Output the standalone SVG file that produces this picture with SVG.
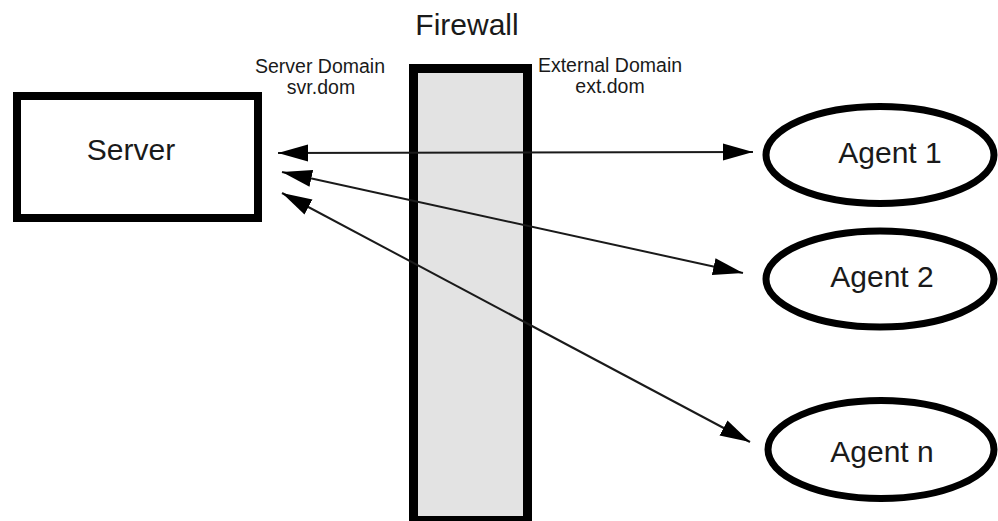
<svg xmlns="http://www.w3.org/2000/svg" width="998" height="521" viewBox="0 0 998 521">
<style>
  .box { fill: #ffffff; stroke: #000; stroke-width: 8; }
  .fw { fill: #e3e3e3; stroke: #000; stroke-width: 9; }
  .agent { fill: #ffffff; stroke: #000; stroke-width: 7; }
  .lbl { font-family: "Liberation Sans", Arial, sans-serif; fill: #1a1a1a; text-anchor: middle; }
  .big { font-size: 30px; }
  .small { font-size: 19.5px; }
  .conn { stroke: #1a1a1a; stroke-width: 2; fill: none; marker-start: url(#ah); marker-end: url(#ah); }
</style>
<defs>
  <marker id="ah" markerUnits="userSpaceOnUse" markerWidth="30" markerHeight="18" refX="30" refY="8.5" orient="auto-start-reverse" viewBox="0 0 30 17">
    <path d="M0,0 L30,8.5 L0,17 z" fill="#000"/>
  </marker>
</defs>
<rect width="998" height="521" fill="#ffffff"/>
<g id="firewall">
  <rect class="fw" x="413.5" y="68.5" width="114" height="452"/>
  <text class="lbl big" x="467" y="35">Firewall</text>
</g>
<g id="server-domain-label">
  <text class="lbl small" x="320" y="73">Server Domain</text>
  <text class="lbl small" x="321" y="94">svr.dom</text>
</g>
<g id="external-domain-label">
  <text class="lbl small" x="610" y="72">External Domain</text>
  <text class="lbl small" x="610" y="93">ext.dom</text>
</g>
<g id="server">
  <rect class="box" x="17" y="96" width="241" height="122"/>
  <text class="lbl big" x="131" y="160">Server</text>
</g>
<g id="agent1">
  <ellipse class="agent" cx="880" cy="155" rx="114" ry="48.5"/>
  <text class="lbl big" x="890" y="163">Agent 1</text>
</g>
<g id="agent2">
  <ellipse class="agent" cx="880" cy="279" rx="114" ry="48"/>
  <text class="lbl big" x="882" y="287">Agent 2</text>
</g>
<g id="agentn">
  <ellipse class="agent" cx="881" cy="449.5" rx="113" ry="49"/>
  <text class="lbl big" x="882" y="462">Agent n</text>
</g>
<g id="connectors">
  <line class="conn" x1="278" y1="153" x2="753" y2="152"/>
  <line class="conn" x1="282" y1="172" x2="743" y2="273"/>
  <line class="conn" x1="282" y1="193" x2="750" y2="442"/>
</g>
</svg>
